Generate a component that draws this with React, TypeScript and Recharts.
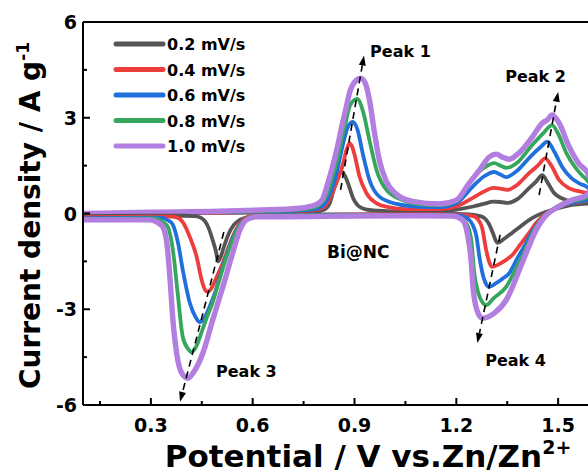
import React from "react";
import {
  LineChart,
  Line,
  XAxis,
  YAxis,
  ReferenceLine,
  ReferenceDot,
} from "recharts";

const FONT = "'DejaVu Sans', 'Liberation Sans', sans-serif";

// scan rates (legend)
const rates = ["0.2 mV/s", "0.4 mV/s", "0.6 mV/s", "0.8 mV/s", "1.0 mV/s"];

// [potential V, current density A/g], forward (oxidation) sweep
const anodic02 = [
  [0.1, 0.0], [0.3, 0.0], [0.5, 0.02], [0.7, 0.04], [0.78, 0.06], [0.81, 0.12],
  [0.826, 0.3], [0.84, 0.8], [0.85, 1.12], [0.862, 1.3], [0.872, 1.18], [0.884, 0.85],
  [0.896, 0.48], [0.91, 0.25], [0.93, 0.14], [0.97, 0.09], [1.05, 0.06], [1.15, 0.07],
  [1.2, 0.12], [1.25, 0.22], [1.28, 0.3], [1.31, 0.37], [1.33, 0.36], [1.35, 0.33],
  [1.38, 0.45], [1.41, 0.75], [1.435, 1.0], [1.453, 1.2], [1.47, 0.95], [1.488, 0.64],
  [1.51, 0.48], [1.53, 0.4], [1.56, 0.36], [1.585, 0.33], [1.6, 0.32],
];
const anodic04 = [
  [0.1, 0.0], [0.3, 0.01], [0.5, 0.03], [0.7, 0.06], [0.78, 0.1], [0.81, 0.2],
  [0.835, 0.64], [0.85, 1.05], [0.865, 1.5], [0.876, 1.98], [0.885, 2.2], [0.893, 2.1],
  [0.9, 1.85], [0.915, 1.15], [0.935, 0.64], [0.965, 0.32], [1.0, 0.2], [1.05, 0.14],
  [1.15, 0.14], [1.2, 0.22], [1.25, 0.5], [1.28, 0.68], [1.31, 0.8], [1.33, 0.78],
  [1.35, 0.74], [1.38, 0.9], [1.41, 1.22], [1.44, 1.5], [1.462, 1.73], [1.48, 1.5],
  [1.503, 1.05], [1.53, 0.8], [1.56, 0.7], [1.585, 0.64], [1.6, 0.55],
];
const anodic06 = [
  [0.1, 0.0], [0.3, 0.02], [0.5, 0.04], [0.7, 0.08], [0.78, 0.13], [0.81, 0.28],
  [0.835, 0.83], [0.85, 1.4], [0.862, 1.99], [0.88, 2.7], [0.894, 2.87], [0.909, 2.62],
  [0.924, 1.89], [0.944, 1.05], [0.974, 0.52], [1.024, 0.3], [1.08, 0.22], [1.15, 0.2],
  [1.2, 0.32], [1.247, 0.83], [1.28, 1.15], [1.312, 1.3], [1.33, 1.22], [1.347, 1.14],
  [1.38, 1.35], [1.42, 1.8], [1.45, 2.1], [1.468, 2.25], [1.488, 1.95], [1.512, 1.46],
  [1.54, 1.1], [1.565, 0.93], [1.585, 0.83], [1.6, 0.65],
];
const anodic08 = [
  [0.1, 0.0], [0.3, 0.03], [0.5, 0.05], [0.7, 0.1], [0.77, 0.16], [0.8, 0.3],
  [0.82, 0.6], [0.835, 1.14], [0.85, 1.7], [0.862, 2.3], [0.875, 2.9], [0.885, 3.34],
  [0.898, 3.55], [0.908, 3.59], [0.924, 3.24], [0.944, 2.3], [0.965, 1.36], [0.994, 0.74],
  [1.041, 0.42], [1.1, 0.28], [1.15, 0.26], [1.2, 0.38], [1.247, 1.1], [1.28, 1.42],
  [1.312, 1.58], [1.33, 1.5], [1.347, 1.43], [1.38, 1.6], [1.42, 2.1], [1.455, 2.5],
  [1.482, 2.77], [1.5, 2.5], [1.524, 1.9], [1.55, 1.45], [1.57, 1.2], [1.585, 1.05],
  [1.6, 0.8],
];
const anodic10 = [
  [0.1, 0.0], [0.3, 0.04], [0.5, 0.07], [0.65, 0.12], [0.72, 0.15], [0.76, 0.2],
  [0.79, 0.3], [0.806, 0.45], [0.82, 0.9], [0.835, 1.46], [0.85, 2.1], [0.862, 2.7],
  [0.875, 3.3], [0.885, 3.77], [0.906, 4.18], [0.918, 4.24], [0.932, 4.08], [0.944, 3.56],
  [0.959, 2.52], [0.973, 1.68], [0.994, 1.0], [1.024, 0.6], [1.071, 0.38], [1.15, 0.3],
  [1.2, 0.42], [1.238, 0.95], [1.268, 1.36], [1.297, 1.77], [1.318, 1.86], [1.335, 1.77],
  [1.356, 1.7], [1.385, 1.9], [1.424, 2.4], [1.453, 2.83], [1.468, 2.93], [1.482, 3.09],
  [1.503, 2.83], [1.532, 2.1], [1.562, 1.55], [1.585, 1.3], [1.6, 0.95],
];

// reverse (reduction) sweep, listed by increasing potential
const cathodic02 = [
  [0.1, -0.08], [0.3, -0.07], [0.4, -0.07], [0.43, -0.08], [0.445, -0.12], [0.46, -0.25],
  [0.47, -0.45], [0.482, -0.83], [0.492, -1.2], [0.498, -1.5], [0.506, -1.35], [0.515, -1.05],
  [0.53, -0.62], [0.545, -0.35], [0.562, -0.2], [0.59, -0.1], [0.63, -0.05], [0.8, -0.03],
  [1.0, -0.02], [1.15, 0.0], [1.22, -0.02], [1.26, -0.06], [1.28, -0.12], [1.295, -0.3],
  [1.308, -0.62], [1.321, -0.92], [1.34, -0.8], [1.365, -0.6], [1.39, -0.4], [1.415, -0.2],
  [1.44, -0.05], [1.465, 0.05], [1.5, 0.17], [1.53, 0.25], [1.56, 0.29], [1.6, 0.32],
];
const cathodic04 = [
  [0.1, -0.12], [0.3, -0.1], [0.36, -0.1], [0.376, -0.12], [0.394, -0.27], [0.415, -0.74],
  [0.435, -1.36], [0.45, -2.1], [0.46, -2.4], [0.468, -2.46], [0.478, -2.35], [0.494, -1.99],
  [0.51, -1.6], [0.524, -1.2], [0.54, -0.75], [0.56, -0.35], [0.585, -0.12], [0.62, -0.05],
  [0.8, -0.04], [1.0, -0.03], [1.15, -0.03], [1.22, -0.05], [1.25, -0.08], [1.265, -0.2],
  [1.276, -0.45], [1.288, -1.15], [1.298, -1.55], [1.306, -1.67], [1.32, -1.62], [1.34, -1.5],
  [1.365, -1.3], [1.39, -0.95], [1.415, -0.6], [1.435, -0.3], [1.453, -0.1], [1.475, 0.07],
  [1.494, 0.17], [1.53, 0.3], [1.56, 0.36], [1.585, 0.4], [1.6, 0.55],
];
const cathodic06 = [
  [0.1, -0.15], [0.3, -0.13], [0.335, -0.14], [0.347, -0.2], [0.362, -0.3], [0.38, -0.92],
  [0.394, -1.77], [0.415, -2.81], [0.432, -3.25], [0.444, -3.4], [0.456, -3.3], [0.474, -2.9],
  [0.49, -2.45], [0.503, -1.99], [0.52, -1.4], [0.54, -0.8], [0.56, -0.4], [0.585, -0.15],
  [0.62, -0.06], [0.8, -0.05], [1.0, -0.04], [1.15, -0.04], [1.21, -0.07], [1.238, -0.2],
  [1.25, -0.4], [1.259, -0.7], [1.268, -1.36], [1.28, -2.0], [1.29, -2.25], [1.297, -2.3],
  [1.315, -2.2], [1.335, -2.05], [1.356, -1.87], [1.38, -1.4], [1.406, -0.92], [1.425, -0.55],
  [1.444, -0.27], [1.462, -0.05], [1.482, 0.1], [1.52, 0.28], [1.555, 0.37], [1.585, 0.42],
  [1.6, 0.65],
];
const cathodic08 = [
  [0.1, -0.17], [0.3, -0.15], [0.32, -0.17], [0.335, -0.27], [0.35, -0.42], [0.365, -1.15],
  [0.379, -2.5], [0.394, -3.87], [0.41, -4.25], [0.42, -4.34], [0.432, -4.2], [0.45, -3.7],
  [0.465, -3.25], [0.48, -2.85], [0.5, -2.15], [0.52, -1.45], [0.54, -0.85], [0.56, -0.42],
  [0.585, -0.16], [0.62, -0.07], [0.8, -0.06], [1.0, -0.05], [1.15, -0.05], [1.2, -0.1],
  [1.229, -0.3], [1.244, -0.83], [1.253, -1.87], [1.265, -2.5], [1.278, -2.8], [1.288, -2.87],
  [1.31, -2.65], [1.347, -2.3], [1.37, -1.85], [1.394, -1.36], [1.415, -0.85], [1.435, -0.42],
  [1.455, -0.12], [1.474, 0.05], [1.51, 0.28], [1.541, 0.38], [1.585, 0.5], [1.6, 0.8],
];
const cathodic10 = [
  [0.1, -0.2], [0.297, -0.2], [0.318, -0.27], [0.335, -0.42], [0.347, -0.92], [0.356, -1.99],
  [0.365, -3.34], [0.376, -4.38], [0.391, -5.0], [0.409, -5.16], [0.424, -5.0], [0.453, -4.38],
  [0.482, -3.34], [0.512, -2.3], [0.541, -1.24], [0.562, -0.52], [0.582, -0.2], [0.61, -0.1],
  [0.7, -0.1], [0.9, -0.08], [1.1, -0.07], [1.188, -0.08], [1.218, -0.2], [1.232, -0.6],
  [1.243, -1.4], [1.25, -2.4], [1.26, -3.0], [1.276, -3.28], [1.312, -3.12], [1.347, -2.71],
  [1.394, -1.55], [1.435, -0.52], [1.465, -0.05], [1.494, 0.17], [1.541, 0.42], [1.585, 0.58],
  [1.6, 0.95],
];

const anodic = [anodic02, anodic04, anodic06, anodic08, anodic10];
const cathodic = [cathodic02, cathodic04, cathodic06, cathodic08, cathodic10];

// axis ticks (the frame is cropped just short of 1.6 V on the right)
const xDomain = [0.1, 1.588];
const xTicks = [0.15, 0.3, 0.45, 0.6, 0.75, 0.9, 1.05, 1.2, 1.35, 1.5];
const xMajor = [0.3, 0.6, 0.9, 1.2, 1.5];
const yTicks = [-6, -4.5, -3, -1.5, 0, 1.5, 3, 4.5, 6];
const yMajor = [-6, -3, 0, 3, 6];

// annotations: [V, I] of text start / baseline
const peakNames = ["Peak 1", "Peak 2", "Peak 3", "Peak 4", "Bi@NC"];
const peakTextAt = [[0.946, 4.9], [1.344, 4.12], [0.492, -5.12], [1.285, -4.78], [0.819, -1.39]];
// dashed arrows: [from, to]
const arrows = [
  [[0.859, 0.74], [0.928, 4.95]],
  [[1.444, 0.58], [1.5, 3.81]],
  [[0.515, -0.58], [0.386, -5.9]],
  [[1.329, -0.67], [1.262, -4.06]],
];

const colors = ["#555555", "#ee3d3d", "#1f6fdd", "#37a65d", "#b27ee0"];
const widths = [3.8, 3.8, 3.8, 3.8, 5.4];

const toRows = (pts: number[][]) => pts.map(([v, i]) => ({ v, i }));
const isIn = (list: number[], v: number) => list.some((m) => Math.abs(m - v) < 1e-6);

const XTick = (props: any) => {
  const { x, y, payload } = props;
  const major = isIn(xMajor, payload.value);
  return (
    <g>
      <line x1={x} x2={x} y1={y} y2={y - (major ? 7 : 4)} stroke="#000" strokeWidth={2} />
      {major && (
        <text x={x} y={y + 27} textAnchor="middle" fontFamily={FONT} fontWeight="bold" fontSize={19} fill="#000">
          {payload.value.toFixed(1)}
        </text>
      )}
    </g>
  );
};

const YTick = (props: any) => {
  const { x, y, payload } = props;
  const major = isIn(yMajor, payload.value);
  return (
    <g>
      <line x1={x} x2={x + (major ? 7 : 4)} y1={y} y2={y} stroke="#000" strokeWidth={2} />
      {major && (
        <text x={x - 6} y={y + 7} textAnchor="end" fontFamily={FONT} fontWeight="bold" fontSize={19} fill="#000">
          {String(payload.value)}
        </text>
      )}
    </g>
  );
};

const arrowShape = (p: any) => {
  const { x1, y1, x2, y2 } = p;
  const a = Math.atan2(y2 - y1, x2 - x1);
  const len = 10;
  const half = 3.5;
  const bx = x2 - len * Math.cos(a);
  const by = y2 - len * Math.sin(a);
  const pts = [
    `${x2},${y2}`,
    `${bx + half * Math.sin(a)},${by - half * Math.cos(a)}`,
    `${bx - half * Math.sin(a)},${by + half * Math.cos(a)}`,
  ].join(" ");
  return (
    <g>
      <line x1={x1} y1={y1} x2={bx} y2={by} stroke="#000" strokeWidth={1.6} strokeDasharray="7 5" />
      <polygon points={pts} fill="#000" />
    </g>
  );
};

const xTitle = (p: any) => {
  const vb = p.viewBox;
  return (
    <text x={368} y={vb.y + 62} textAnchor="middle" fontFamily={FONT} fontWeight="bold" fontSize={31} fill="#000">
      Potential / V vs.Zn/Zn
      <tspan fontSize={19} dy={-13}>2+</tspan>
    </text>
  );
};

const yTitle = (p: any) => {
  const vb = p.viewBox;
  const cy = vb.y + vb.height / 2 + 2;
  return (
    <text
      x={0}
      y={0}
      transform={`translate(40, ${cy}) rotate(-90)`}
      textAnchor="middle"
      fontFamily={FONT}
      fontWeight="bold"
      fontSize={28}
      fill="#000"
    >
      Current density / A g
      <tspan fontSize={17} dy={-11}>-1</tspan>
    </text>
  );
};

const LegendBox = () => (
  <svg width={200} height={150} style={{ position: "absolute", left: 100, top: 25 }}>
    {rates.map((r, k) => {
      const cy = 19 + k * 25.5;
      return (
        <g key={r}>
          <line x1={16} x2={63} y1={cy} y2={cy} stroke={colors[k]} strokeWidth={5} strokeLinecap="round" />
          <text x={67} y={cy + 6} fontFamily={FONT} fontWeight="bold" fontSize={16} fill="#000">
            {r}
          </text>
        </g>
      );
    })}
  </svg>
);

export default function App() {
  return (
    <div style={{ position: "fixed", left: 0, top: 0, width: 588, height: 475, overflow: "hidden", background: "#fff" }}>
      <LineChart width={588} height={475} margin={{ top: 22, right: 0, left: 0, bottom: 0 }}>
        <XAxis
          type="number"
          dataKey="v"
          domain={xDomain}
          allowDataOverflow
          ticks={xTicks}
          interval={0}
          tick={<XTick />}
          tickLine={false}
          tickSize={0}
          tickMargin={0}
          height={70}
          axisLine={{ stroke: "#000", strokeWidth: 2 }}
          label={xTitle}
        />
        <YAxis
          type="number"
          dataKey="i"
          domain={[-6, 6]}
          ticks={yTicks}
          interval={0}
          tick={<YTick />}
          tickLine={false}
          tickSize={0}
          tickMargin={0}
          width={83}
          axisLine={{ stroke: "#000", strokeWidth: 2 }}
          label={yTitle}
        />
        <ReferenceLine y={6} stroke="#000" strokeWidth={2} />
        {anodic.map((pts, k) => (
          <Line
            key={`a${k}`}
            data={toRows(pts)}
            dataKey="i"
            type="monotone"
            stroke={colors[k]}
            strokeWidth={widths[k]}
            strokeLinejoin="round"
            strokeLinecap="round"
            dot={false}
            isAnimationActive={false}
          />
        ))}
        {cathodic.map((pts, k) => (
          <Line
            key={`c${k}`}
            data={toRows(pts)}
            dataKey="i"
            type="monotone"
            stroke={colors[k]}
            strokeWidth={widths[k]}
            strokeLinejoin="round"
            strokeLinecap="round"
            dot={false}
            isAnimationActive={false}
          />
        ))}
        {arrows.map(([a, b], k) => (
          <ReferenceLine
            key={`ar${k}`}
            segment={[{ x: a[0], y: a[1] }, { x: b[0], y: b[1] }]}
            shape={arrowShape}
          />
        ))}
        {peakNames.map((name, k) => (
          <ReferenceDot
            key={name}
            x={peakTextAt[k][0]}
            y={peakTextAt[k][1]}
            r={0}
            shape={(p: any) => (
              <text x={p.cx} y={p.cy} fontFamily={FONT} fontWeight="bold" fontSize={k === 4 ? 17 : 16} fill="#000">
                {name}
              </text>
            )}
          />
        ))}
      </LineChart>
      <LegendBox />
    </div>
  );
}
